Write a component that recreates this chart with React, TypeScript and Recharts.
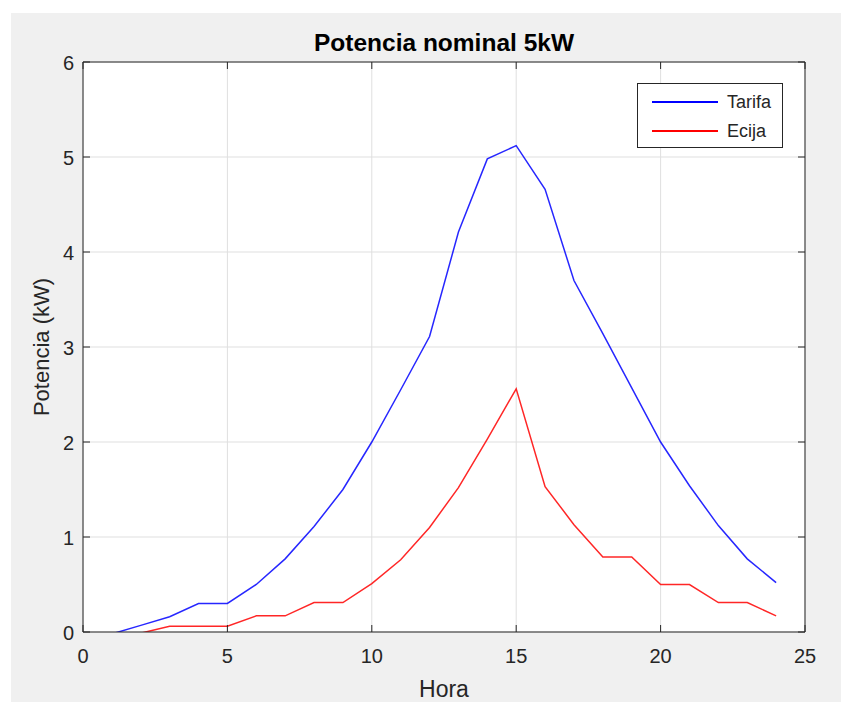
import React from 'react';
import { LineChart, Line, XAxis, YAxis, CartesianGrid, ReferenceLine } from 'recharts';

const horas = [1, 2, 3, 4, 5, 6, 7, 8, 9, 10, 11, 12, 13, 14, 15, 16, 17, 18, 19, 20, 21, 22, 23, 24];
const tarifa = [-0.02, 0.07, 0.16, 0.3, 0.3, 0.5, 0.77, 1.11, 1.5, 2.0, 2.55, 3.11, 4.21, 4.98, 5.12, 4.66, 3.7, 3.14, 2.57, 2.0, 1.54, 1.12, 0.77, 0.52];
const ecija = [-0.02, -0.012, 0.06, 0.06, 0.06, 0.17, 0.17, 0.31, 0.31, 0.51, 0.76, 1.1, 1.52, 2.03, 2.56, 1.53, 1.13, 0.79, 0.79, 0.5, 0.5, 0.31, 0.31, 0.17];
const xTicks = [0, 5, 10, 15, 20, 25];
const yTicks = [0, 1, 2, 3, 4, 5, 6];

const series = [
  { key: 'tarifa', name: 'Tarifa', color: '#0000ff' },
  { key: 'ecija', name: 'Ecija', color: '#ff0000' },
];

const data = horas.map((h, i) => ({ hora: h, tarifa: tarifa[i], ecija: ecija[i] }));

const AX = '#262626';
const FONT = '"Liberation Sans", Arial, Helvetica, sans-serif';
const TICK_LEN = 7;
const W = 841;
const H = 702;
const MARGIN = { top: 62, right: 36, left: 0, bottom: 0 };
const Y_AXIS_W = 83;
const X_AXIS_H = 70;
const PLOT_W = W - Y_AXIS_W - MARGIN.right;
const PLOT_H = H - MARGIN.top - X_AXIS_H;

// MATLAB-style ticks: inward, mirrored on the opposite side of the box
const BottomTick = (props: any) => {
  const { x, y, payload } = props;
  return (
    <g>
      <line x1={x} x2={x} y1={y} y2={y - TICK_LEN} stroke={AX} strokeWidth={1} />
      <line x1={x} x2={x} y1={y - PLOT_H} y2={y - PLOT_H + TICK_LEN} stroke={AX} strokeWidth={1} />
      <text x={x} y={y + 24} textAnchor="middle" dominantBaseline="central" fontSize={20} fill={AX} fontFamily={FONT}>
        {payload.value}
      </text>
    </g>
  );
};

const LeftTick = (props: any) => {
  const { x, y, payload } = props;
  return (
    <g>
      <line x1={x} x2={x + TICK_LEN} y1={y} y2={y} stroke={AX} strokeWidth={1} />
      <line x1={x + PLOT_W} x2={x + PLOT_W - TICK_LEN} y1={y} y2={y} stroke={AX} strokeWidth={1} />
      <text x={x - 9} y={y + 1} textAnchor="end" dominantBaseline="central" fontSize={20} fill={AX} fontFamily={FONT}>
        {payload.value}
      </text>
    </g>
  );
};

export default function App() {
  return (
    <div style={{ position: 'absolute', left: 0, top: 0, width: W, height: H, background: '#fff', fontFamily: FONT }}>
      <div style={{ position: 'absolute', left: 11, top: 13, width: 830, height: 689, background: '#f0f0f0' }} />
      <div style={{ position: 'absolute', left: 0, top: 0 }}>
        <LineChart width={W} height={H} data={data} margin={MARGIN}>
          <CartesianGrid fill="#ffffff" stroke="#dfdfdf" strokeWidth={1} />
          <ReferenceLine y={6} stroke={AX} strokeWidth={1} />
          <ReferenceLine x={25} stroke={AX} strokeWidth={1} />
          <XAxis
            dataKey="hora"
            type="number"
            domain={[0, 25]}
            ticks={xTicks}
            interval={0}
            height={X_AXIS_H}
            tickSize={0}
            tickMargin={0}
            tickLine={false}
            stroke={AX}
            tick={<BottomTick />}
          />
          <YAxis
            type="number"
            domain={[0, 6]}
            ticks={yTicks}
            interval={0}
            width={Y_AXIS_W}
            allowDataOverflow
            tickSize={0}
            tickMargin={0}
            tickLine={false}
            stroke={AX}
            tick={<LeftTick />}
          />
          {series.map((s) => (
            <Line
              key={s.key}
              type="linear"
              dataKey={s.key}
              name={s.name}
              stroke={s.color}
              strokeWidth={1.5}
              strokeOpacity={0.85}
              dot={false}
              activeDot={false}
              isAnimationActive={false}
            />
          ))}
        </LineChart>
      </div>
      <svg width={W} height={H} style={{ position: 'absolute', left: 0, top: 0, pointerEvents: 'none' }}>
        <text x={444} y={42} textAnchor="middle" dominantBaseline="central" fontSize={24.5} fontWeight="bold" fill="#000" fontFamily={FONT}>
          Potencia nominal 5kW
        </text>
        <text x={444} y={689} textAnchor="middle" dominantBaseline="central" fontSize={23} fill={AX} fontFamily={FONT}>
          Hora
        </text>
        <text
          x={41}
          y={347}
          textAnchor="middle"
          dominantBaseline="central"
          fontSize={22}
          fill={AX}
          fontFamily={FONT}
          transform="rotate(-90 41 347)"
        >
          Potencia (kW)
        </text>
      </svg>
      <div
        style={{
          position: 'absolute',
          left: 637,
          top: 83,
          width: 144,
          height: 63,
          background: '#fff',
          border: `1px solid ${AX}`,
        }}
      >
        {series.map((s, i) => (
          <div key={s.key} style={{ position: 'absolute', left: 0, top: 18 + i * 28.5 - 10, height: 20, width: 144 }}>
            <div style={{ position: 'absolute', left: 14, top: 9, width: 66, height: 0, borderTop: `2px solid ${s.color}` }} />
            <div style={{ position: 'absolute', left: 89, top: 0, lineHeight: '20px', fontSize: 18, color: AX }}>{s.name}</div>
          </div>
        ))}
      </div>
    </div>
  );
}
